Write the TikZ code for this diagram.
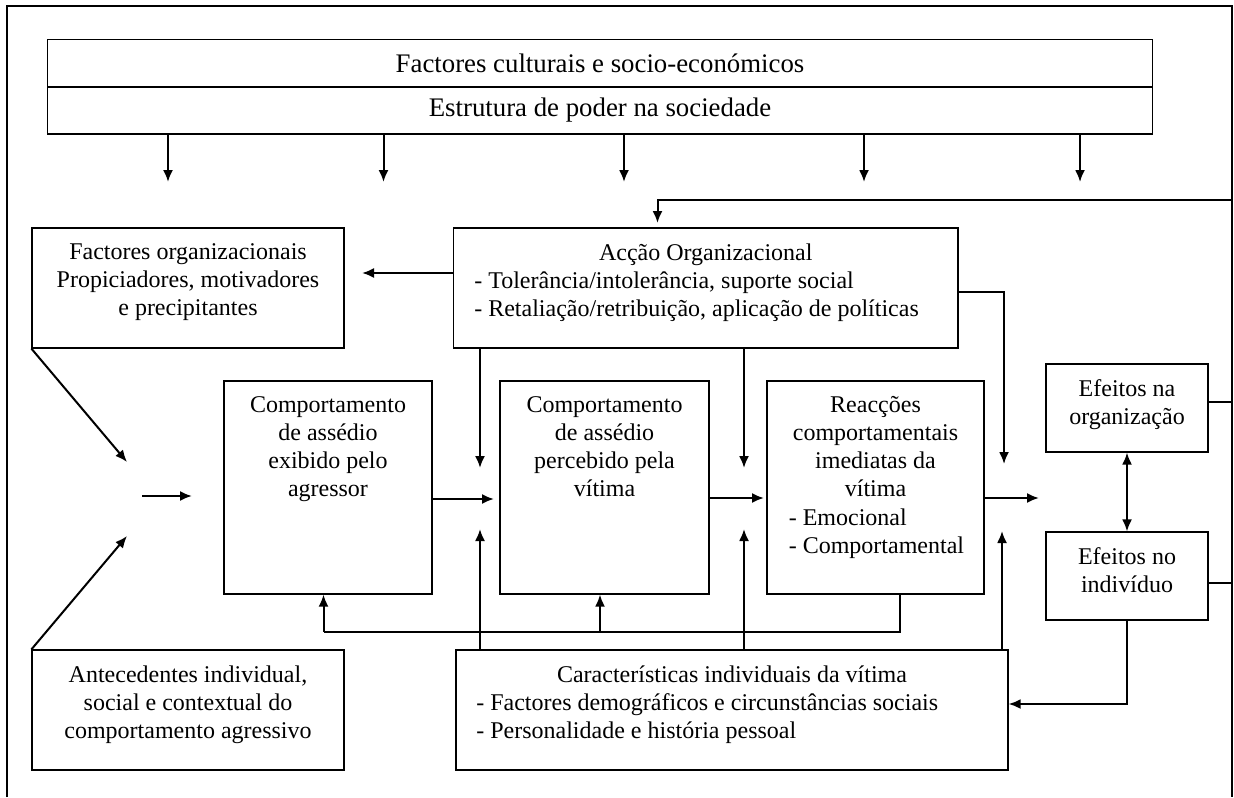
\documentclass[tikz,border=0pt]{standalone}
\usepackage{fontspec}
\setmainfont{Liberation Serif}
\usetikzlibrary{arrows.meta}

\begin{document}
\begin{tikzpicture}[x=0.5pt,y=-0.5pt,
    box/.style={draw,line width=0.6pt,inner sep=0pt,font=\fontsize{12}{14}\selectfont},
    txt/.style={anchor=north,align=center,inner sep=0pt,font=\fontsize{12}{14}\selectfont},
    lst/.style={anchor=north west,align=left,inner sep=0pt,font=\fontsize{12}{14}\selectfont},
    arr/.style={line width=1pt,-{Latex[length=6pt,width=5pt]}},
    arrs/.style={line width=1pt,{Latex[length=6pt,width=5pt]}-{Latex[length=6pt,width=5pt]}},
    ln/.style={line width=0.8pt}]

    \useasboundingbox (0,0) rectangle (1234,797);

    % moldura
    \coordinate (frBL) at (7,797);
    \coordinate (frTL) at (7,6);
    \coordinate (frTR) at (1232,6);
    \coordinate (frBR) at (1232,797);
    \draw[line width=1pt] (frBL) -- (frTL) -- (frTR) -- (frBR);

    \node[box,minimum width=552.25pt,minimum height=24pt,font=\fontsize{13.4}{15}\selectfont] (cult) at (600,63.5) {Factores culturais e socio-económicos};
    \node[box,minimum width=552.25pt,minimum height=23.5pt,font=\fontsize{13.4}{15}\selectfont] (poder) at (600,110.5) {Estrutura de poder na sociedade};

    \foreach \i/\x in {1/168,2/383.5,3/624,4/864,5/1080}{
        \coordinate (d\i) at (\x,182);
        \draw[arr] (poder.south -| d\i) -- (d\i);
    }

    \node[box,minimum width=156pt,minimum height=60pt] (forg) at (188,288) {};
    \node[txt] (forg-t) at ([yshift=-8pt]forg.north) {Factores organizacionais\\Propiciadores, motivadores\\e precipitantes};

    \node[box,minimum width=252.25pt,minimum height=60pt] (accao) at (705.75,288) {};
    \node[txt] (accao-t) at ([yshift=-8pt]accao.north) {Acção Organizacional};
    \node[lst] (accao-l) at ([xshift=10.5pt,yshift=-22pt]accao.north west) {- Tolerância/intolerância, suporte social\\- Retaliação/retribuição, aplicação de políticas};

    \node[box,minimum width=104pt,minimum height=106.5pt] (comp1) at (328,487.5) {};
    \node[txt] (comp1-t) at ([yshift=-8pt]comp1.north) {Comportamento\\de assédio\\exibido pelo\\agressor};

    \node[box,minimum width=104.5pt,minimum height=106.5pt] (comp2) at (604.5,487.5) {};
    \node[txt] (comp2-t) at ([yshift=-8pt]comp2.north) {Comportamento\\de assédio\\percebido pela\\vítima};

    \node[box,minimum width=108.5pt,minimum height=106.5pt] (reac) at (875.5,487.5) {};
    \node[txt] (reac-t) at ([yshift=-8pt]reac.north) {Reacções\\comportamentais\\imediatas da\\vítima};
    \node[lst] (reac-l) at ([xshift=11pt,yshift=-64pt]reac.north west) {- Emocional\\- Comportamental};

    \node[box,minimum width=81pt,minimum height=44pt] (efo) at (1127,408) {};
    \node[txt] (efo-t) at ([yshift=-8pt]efo.north) {Efeitos na\\organização};

    \node[box,minimum width=81pt,minimum height=44pt] (efi) at (1127,576) {};
    \node[txt] (efi-t) at ([yshift=-8pt]efi.north) {Efeitos no\\indivíduo};

    \node[box,minimum width=156pt,minimum height=60pt] (ante) at (188,710) {};
    \node[txt] (ante-t) at ([yshift=-8pt]ante.north) {Antecedentes individual,\\social e contextual do\\comportamento agressivo};

    \node[box,minimum width=276pt,minimum height=60pt] (carac) at (732,710) {};
    \node[txt] (carac-t) at ([yshift=-8pt]carac.north) {Características individuais da vítima};
    \node[lst] (carac-l) at ([xshift=10.25pt,yshift=-22pt]carac.north west) {- Factores demográficos e circunstâncias sociais\\- Personalidade e história pessoal};

    % entradas do comportamento do agressor
    \coordinate (j1) at (127,462);
    \coordinate (j2) at (127,536);
    \coordinate (jL) at (142,496);
    \coordinate (jR) at (192,496);
    \draw[arr] (forg.south west) -- (j1);
    \draw[arr] (ante.north west) -- (j2);
    \draw[arr] (jL) -- (jR);

    % cadeia principal
    \coordinate (c2in) at (494,499);
    \coordinate (rin) at (764,498);
    \coordinate (rout) at (1039,498);
    \draw[arr] (comp1.east |- c2in) -- (c2in);
    \draw[arr] (comp2.east |- rin) -- (rin);
    \draw[arr] (reac.east |- rout) -- (rout);

    % accao organizacional
    \coordinate (fin) at (362,273);
    \coordinate (a1) at (480,468);
    \coordinate (a2) at (744,468);
    \coordinate (a3) at (1004,464);
    \draw[arr] (accao.west |- fin) -- (fin);
    \draw[arr] (accao.south -| a1) -- (a1);
    \draw[arr] (accao.south -| a2) -- (a2);
    \draw[arr] ([yshift=-2pt]accao.east) -| (a3);

    % caracteristicas da vitima
    \coordinate (v1) at (480,529);
    \coordinate (v2) at (744,529);
    \coordinate (v3) at (1002,531);
    \draw[arr] (carac.north -| v1) -- (v1);
    \draw[arr] (carac.north -| v2) -- (v2);
    \draw[arr] (carac.north -| v3) -- (v3);

    % retorno das reaccoes
    \coordinate (bR) at (900,632);
    \coordinate (bM) at (600,632);
    \coordinate (bL) at (323.5,632);
    \draw[ln] (reac.south -| bR) -- (bR) -- (bL);
    \draw[arr] (bL) -- (comp1.south -| bL);
    \draw[arr] (bM) -- (comp2.south -| bM);

    % efeitos
    \coordinate (top) at (1232,200);
    \coordinate (ain) at (657.5,223);
    \draw[arr] (top) -| (ain);
    \draw[ln] ([yshift=3pt]efo.east) -- ([yshift=3pt]efo.east -| frTR);
    \draw[ln] ([yshift=-3.5pt]efi.east) -- ([yshift=-3.5pt]efi.east -| frTR);
    \draw[arrs] (efo.south) -- (efi.north);
    \draw[arr] (efi.south) |- ([yshift=3pt]carac.east);
\end{tikzpicture}
\end{document}
